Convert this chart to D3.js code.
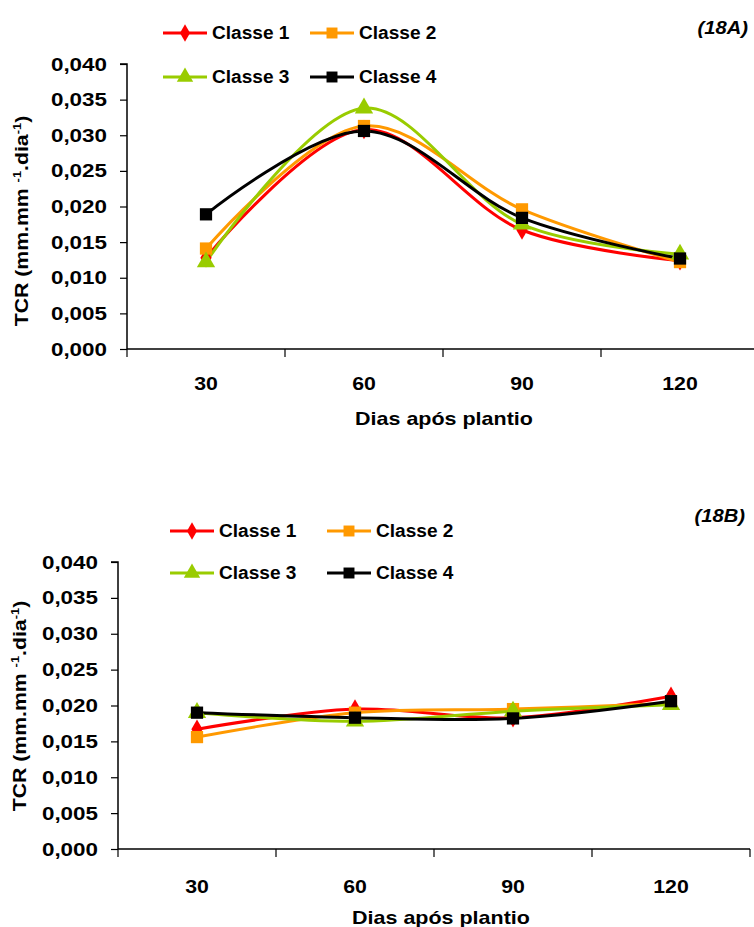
<!DOCTYPE html>
<html><head><meta charset="utf-8">
<script src="https://cdn.jsdelivr.net/npm/d3@7"></script>
<style>
body{margin:0;background:#fff}
svg{display:block}
text{font-family:"Liberation Sans",Arial,sans-serif;font-weight:bold;fill:#000}
</style>
</head><body>
<svg id="chart" width="754" height="927"></svg>
<script>
// ---- data ----
const days = ["30", "60", "90", "120"];
const seriesNames = ["Classe 1", "Classe 2", "Classe 3", "Classe 4"];
const yTicks = [0, 0.005, 0.010, 0.015, 0.020, 0.025, 0.030, 0.035, 0.040];

// Panel 18A
const a_classe1 = [0.0128, 0.0308, 0.0167, 0.0124];
const a_classe2 = [0.0141, 0.0313, 0.0196, 0.0122];
const a_classe3 = [0.0122, 0.0338, 0.0175, 0.0133];
const a_classe4 = [0.0189, 0.0306, 0.0184, 0.0127];

// Panel 18B
const b_classe1 = [0.0167, 0.0195, 0.0183, 0.0213];
const b_classe2 = [0.0156, 0.0190, 0.0195, 0.0203];
const b_classe3 = [0.0190, 0.0178, 0.0192, 0.0201];
const b_classe4 = [0.0190, 0.0183, 0.0182, 0.0206];

// ---- styles ----
const colors = ["#FF0000", "#FF9900", "#99CC00", "#000000"];
const markers = [d3.symbolDiamond, d3.symbolSquare, d3.symbolTriangle, d3.symbolSquare];
const markerSizes = [110, 150, 145, 150];

const svg = d3.select("#chart");
const fmt = d => d3.format(".3f")(d).replace(".", ",");

// widen glyphs horizontally, like the stretched original
function stretch(sel, f) {
  sel.each(function () {
    const len = this.getComputedTextLength();
    d3.select(this).attr("textLength", len * f).attr("lengthAdjust", "spacingAndGlyphs");
  });
}

function drawPanel(cfg) {
  const series = cfg.series;
  const x = d3.scaleBand().domain(days).range([cfg.left, cfg.left + cfg.width]).paddingInner(0).paddingOuter(0);
  const y = d3.scaleLinear().domain([0, 0.04]).range([cfg.bottom, cfg.top]);
  const g = svg.append("g");

  // y axis
  const ya = g.append("g").attr("transform", `translate(${cfg.left},0)`)
    .call(d3.axisLeft(y).tickValues(yTicks).tickSize(7).tickPadding(13).tickFormat(fmt));
  ya.select(".domain").attr("stroke", "#000").attr("stroke-width", 1.5).attr("d", `M-7,${cfg.top}H0V${cfg.bottom}`);
  ya.selectAll(".tick line").attr("stroke", "#000").attr("stroke-width", 1.2);
  ya.selectAll(".tick text").style("font-size", "19px").attr("fill", "#000");
  stretch(ya.selectAll(".tick text"), 1.18);

  // x axis (labels at centers, ticks at category boundaries)
  const xa = g.append("g").attr("transform", `translate(0,${cfg.bottom})`)
    .call(d3.axisBottom(x).tickSize(0).tickPadding(cfg.xPad));
  xa.select(".domain").attr("stroke", "#000").attr("stroke-width", 1.5)
    .attr("d", `M${cfg.left},0H${cfg.left + cfg.width}`);
  xa.selectAll(".tick text").style("font-size", "19px").attr("fill", "#000");
  stretch(xa.selectAll(".tick text"), 1.12);
  const bounds = days.map(d => x(d)).concat([x(days[days.length - 1]) + x.bandwidth()]);
  xa.selectAll(".bt").data(bounds).join("line").attr("class", "bt")
    .attr("x1", d => d).attr("x2", d => d).attr("y1", 0).attr("y2", 8)
    .attr("stroke", "#000").attr("stroke-width", 1.2);

  // axis titles
  const xt = g.append("text").attr("x", cfg.xTitleX).attr("y", cfg.xTitleY).attr("text-anchor", "middle")
    .style("font-size", "19px").text("Dias após plantio");
  stretch(xt, 1.13);
  const yt = g.append("text").attr("transform", `translate(${cfg.yTitleX},${cfg.yTitleY}) rotate(-90) scale(1.18,1)`)
    .attr("text-anchor", "middle").style("font-size", "18px");
  yt.append("tspan").text("TCR (mm.mm ");
  yt.append("tspan").attr("dy", -7).style("font-size", "11px").text("-1");
  yt.append("tspan").attr("dy", 7).text(".dia");
  yt.append("tspan").attr("dy", -7).style("font-size", "11px").text("-1");
  yt.append("tspan").attr("dy", 7).text(")");

  // panel label
  const pl = g.append("text").attr("x", cfg.labelX).attr("y", cfg.labelY).attr("text-anchor", "end")
    .style("font-size", "18px").style("font-style", "italic").text(cfg.label);
  stretch(pl, 1.12);

  // lines
  const line = d3.line().x((d, i) => x(days[i]) + x.bandwidth() / 2).y(d => y(d))
    .curve(d3.curveCatmullRom.alpha(0.5));
  series.forEach((s, k) => {
    g.append("path").datum(s).attr("d", line).attr("fill", "none")
      .attr("stroke", colors[k]).attr("stroke-width", 3).attr("stroke-linejoin", "round");
  });
  series.forEach((s, k) => {
    g.selectAll(null).data(s).join("path")
      .attr("transform", (d, i) => `translate(${x(days[i]) + x.bandwidth() / 2},${y(d)})`)
      .attr("d", d3.symbol().type(markers[k]).size(markerSizes[k]))
      .attr("fill", colors[k]);
  });

  // legend
  seriesNames.forEach((name, k) => {
    const lx = cfg.legX[k % 2], ly = cfg.legY[Math.floor(k / 2)];
    const lg = g.append("g").attr("transform", `translate(${lx},${ly})`);
    lg.append("line").attr("x1", 0).attr("x2", 44).attr("y1", 0).attr("y2", 0)
      .attr("stroke", colors[k]).attr("stroke-width", 3);
    lg.append("path").attr("transform", "translate(22,0)")
      .attr("d", d3.symbol().type(markers[k]).size(markerSizes[k] * 0.8)).attr("fill", colors[k]);
    const t = lg.append("text").attr("x", 49).attr("y", 0).attr("dy", "0.35em")
      .style("font-size", "18px").text(name);
    stretch(t, 1.06);
  });
}

drawPanel({
  series: [a_classe1, a_classe2, a_classe3, a_classe4],
  left: 127, width: 632, top: 64, bottom: 349, xPad: 28,
  xTitleX: 444, xTitleY: 425, yTitleX: 28, yTitleY: 221,
  label: "(18A)", labelX: 748, labelY: 34,
  legX: [163, 310], legY: [33, 77]
});

drawPanel({
  series: [b_classe1, b_classe2, b_classe3, b_classe4],
  left: 118, width: 632, top: 562, bottom: 849, xPad: 31,
  xTitleX: 441, xTitleY: 924, yTitleX: 26, yTitleY: 706,
  label: "(18B)", labelX: 745, labelY: 522,
  legX: [170, 327], legY: [531, 573]
});
</script>
</body></html>
